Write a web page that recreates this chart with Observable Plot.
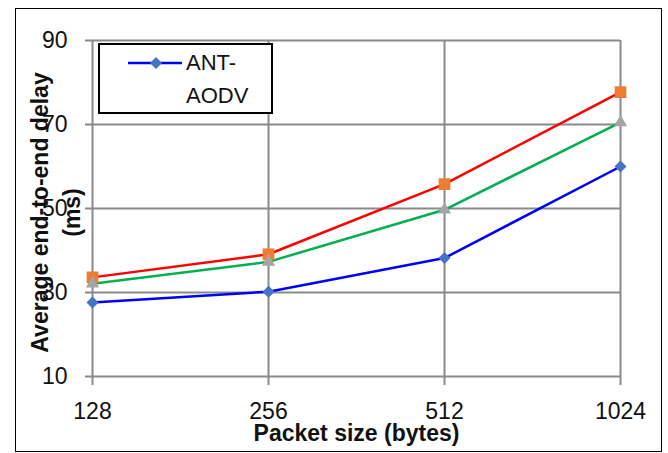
<!DOCTYPE html>
<html>
<head>
<meta charset="utf-8">
<script src="https://cdn.jsdelivr.net/npm/d3@7"></script>
<script src="https://cdn.jsdelivr.net/npm/@observablehq/plot@0.6"></script>
<style>
  html, body { margin: 0; padding: 0; background: #fff; }
  #wrap { position: relative; width: 668px; height: 453px; overflow: hidden; font-family: "Liberation Sans", Arial, sans-serif; }
  #border { position: absolute; left: 15px; top: 8px; width: 647px; height: 444px; border: 1.5px solid #000; box-sizing: border-box; pointer-events: none; }
  #legend { position: absolute; left: 98px; top: 43px; width: 175px; height: 71px; border: 2px solid #000; box-sizing: border-box; background: #fff; }
  #legend svg { position: absolute; left: 0; top: 0; }
  #legend .lab { position: absolute; left: 86px; top: 1px; width: 80px; font-size: 22px; line-height: 33px; color: #111; }
</style>
</head>
<body>
<div id="wrap">
  <div id="chart"></div>
  <div id="border"></div>
  <div id="legend"></div>
</div>
<script>
// ---- data ----
const packetSizes = ["128", "256", "512", "1024"];
const antAodvDelay = [27.6, 30.2, 38.2, 60.0];   // blue, diamonds
const series2Delay = [33.6, 39.1, 55.8, 77.7];   // red line, orange squares
const series3Delay = [32.1, 37.3, 49.7, 70.5];   // green line, grey triangles
const yTicks = [10, 30, 50, 70, 90];
const legendNames = ["ANT-AODV"];
const xLabel = "Packet size (bytes)";
const yLabel = "Average end-to-end delay\n(ms)";

const series = [
  {name: "ANT-AODV", values: antAodvDelay, line: "#0000ff", marker: "#4472c4", symbol: "diamond2", r: 5.4},
  {name: "series2", values: series2Delay, line: "#ff0000", marker: "#ed7d31", symbol: "square", r: 6.6},
  {name: "series3", values: series3Delay, line: "#00b050", marker: "#a5a5a5", symbol: "triangle", r: 4.9}
];

const rows = [];
series.forEach(s => packetSizes.forEach((p, i) => rows.push({size: p, value: s.values[i], name: s.name})));

const gridColor = "#8a8a8a";
const font = "'Liberation Sans', Arial, sans-serif";

const marks = [
  Plot.gridY(yTicks, {stroke: gridColor, strokeOpacity: 1, strokeWidth: 2}),
  Plot.gridX(packetSizes, {stroke: gridColor, strokeOpacity: 1, strokeWidth: 2}),
  Plot.axisY(yTicks, {tickSize: 7, tickPadding: 18, stroke: gridColor, strokeWidth: 2, label: null, fontSize: 23, fill: "#111"}),
  Plot.axisX(packetSizes, {tickSize: 9, tickPadding: 17, stroke: gridColor, strokeWidth: 2, label: null, fontSize: 23, fill: "#111"})
];
series.forEach(s => {
  marks.push(Plot.line(rows.filter(d => d.name === s.name), {x: "size", y: "value", stroke: s.line, strokeWidth: 2.5}));
});
series.forEach(s => {
  marks.push(Plot.dot(rows.filter(d => d.name === s.name), {x: "size", y: "value", symbol: s.symbol, r: s.r, fill: s.marker, stroke: "none"}));
});
marks.push(Plot.text([yLabel], {frameAnchor: "left", textAnchor: "middle", lineAnchor: "middle", rotate: -90, dx: -39, dy: 4, fontSize: 23, fontWeight: "bold", lineHeight: 1.38, fill: "#111"}));
marks.push(Plot.text([xLabel], {frameAnchor: "bottom", textAnchor: "middle", lineAnchor: "middle", dy: 57, fontSize: 23, fontWeight: "bold", fill: "#111"}));

const chart = Plot.plot({
  width: 668,
  height: 453,
  marginLeft: 92,
  marginRight: 48,
  marginTop: 40,
  marginBottom: 77,
  style: {fontFamily: font, background: "transparent", overflow: "visible"},
  x: {type: "point", domain: packetSizes, padding: 0},
  y: {domain: [10, 90]},
  marks
});
document.getElementById("chart").appendChild(chart);

// ---- legend ----
const leg = d3.select("#legend");
const legSvg = leg.append("svg").attr("width", 171).attr("height", 67);
legendNames.forEach((n, i) => {
  const s = series.find(d => d.name === n);
  legSvg.append("line").attr("x1", 28).attr("x2", 82).attr("y1", 18).attr("y2", 18)
    .attr("stroke", s.line).attr("stroke-width", 2.5);
  legSvg.append("path").attr("d", d3.symbol(d3.symbolDiamond2, Math.PI * s.r * s.r)())
    .attr("transform", "translate(56,18)").attr("fill", s.marker);
  leg.append("div").attr("class", "lab").text(n);
});
</script>
</body>
</html>
